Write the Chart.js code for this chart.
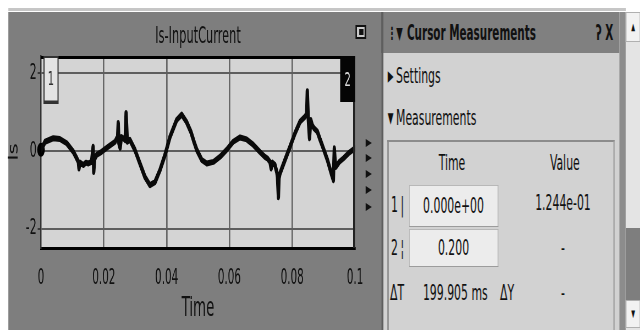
<!DOCTYPE html>
<html>
<head>
<meta charset="utf-8">
<script src="https://cdn.jsdelivr.net/npm/chart.js@4.4.1/dist/chart.umd.min.js"></script>
<style>
  html, body { margin: 0; padding: 0; background: #fff; overflow: hidden; width: 642px; height: 330px; }
  /* the screenshot is squeezed sideways, so everything is laid out wide and scaled */
  #page { position: absolute; left: 0; top: 0; width: 1168px; height: 330px;
          transform: scaleX(0.55); transform-origin: 0 0;
          font-family: 'Liberation Sans Narrow', 'DejaVu Sans Condensed', 'Liberation Sans', sans-serif;
          color: #111; }
  .abs { position: absolute; box-sizing: border-box; }
  .t { position: absolute; white-space: nowrap; font-size: 22px; line-height: 26px; }
  .c { text-align: center; }
  .tri { position: absolute; width: 0; height: 0; border-left: 11px solid #111;
         border-top: 4px solid transparent; border-bottom: 4px solid transparent; }
  .inp { position: absolute; box-sizing: border-box; background: #ececec; border: 1.5px solid #9c9c9c;
         border-top-color: #b8b8b8; font-size: 22px; text-align: center; }
</style>
</head>
<body>
<div id="page">
  <div class="abs" style="left:14.5px;top:8px;width:1123.5px;height:3px;background:#c6c6c6"></div>
  <div class="abs" style="left:14.5px;top:12px;width:678.5px;height:318px;background:#7e7e7e"></div>
  <canvas id="scope" class="abs" width="693" height="330" style="left:0;top:0"></canvas>

  <div class="abs" style="left:646px;top:25px;width:20px;height:14px;border:3px solid #111;border-top-width:2px;border-bottom-width:2px;background:#c9c9c9">
    <div class="abs" style="left:4px;top:2px;width:8px;height:6px;background:#111"></div>
  </div>
  <div class="tri" style="left:665px;top:139px"></div>
  <div class="tri" style="left:665px;top:154px"></div>
  <div class="tri" style="left:665px;top:170px"></div>
  <div class="tri" style="left:665px;top:186px"></div>
  <div class="tri" style="left:665px;top:203px"></div>

  <!-- cursor measurements panel -->
  <div class="abs" style="left:693px;top:12px;width:432.5px;height:318px;background:#d2d2d2;border-left:4px solid #5e5e5e"></div>
  <div class="abs" style="left:693px;top:12px;width:432.5px;height:41px;background:#808080;border-left:4px solid #5e5e5e"></div>
  <span class="t" style="left:705px;top:20px;font-size:17px;font-weight:bold">⋮▼</span>
  <span class="t" style="left:740px;top:20px;font-size:21px;font-weight:bold">Cursor Measurements</span>
  <span class="t" style="left:1083px;top:20px;font-size:21px;font-weight:bold">ʔ X</span>

  <span class="t" style="left:705px;top:63px;font-size:15px">▶</span>
  <span class="t" style="left:720px;top:63px">Settings</span>
  <span class="t" style="left:705px;top:105px;font-size:15px">▼</span>
  <span class="t" style="left:720px;top:105px">Measurements</span>

  <div class="abs" style="left:703.6px;top:140px;width:414.4px;height:200px;border:3px solid #8c8c8c;border-top-width:2px;border-right-color:#a8a8a8"></div>
  <span class="t c" style="left:761.8px;top:150px;width:120px">Time</span>
  <span class="t c" style="left:967px;top:150px;width:120px">Value</span>

  <span class="t" style="left:711px;top:192px">1</span>
  <span class="t" style="left:728px;top:192px">|</span>
  <div class="inp" style="left:743.6px;top:185px;width:162px;height:42px;line-height:39px">0.000e+00</div>
  <span class="t c" style="left:953.6px;top:190px;width:140px">1.244e-01</span>

  <span class="t" style="left:711px;top:235px">2</span>
  <span class="t" style="left:728px;top:235px">¦</span>
  <div class="inp" style="left:743.6px;top:229px;width:162px;height:38px;line-height:35px">0.200</div>
  <span class="t c" style="left:953.6px;top:235px;width:140px">-</span>

  <span class="t" style="left:709px;top:280px">ΔT</span>
  <span class="t" style="left:769px;top:280px">199.905 ms</span>
  <span class="t" style="left:909px;top:280px">ΔY</span>
  <span class="t c" style="left:953.6px;top:280px;width:140px">-</span>

  <!-- scrollbar -->
  <div class="abs" style="left:1125.5px;top:12px;width:12.5px;height:318px;background:#8c8c8c"></div>
  <div class="abs" style="left:1138px;top:12px;width:26px;height:318px;background:#e4e4e4"></div>
  <div class="abs c" style="left:1138px;top:12px;width:26px;height:30px;background:#f2f2f2;border:1.5px solid #b0b0b0;font-size:10px;line-height:28px">▲</div>
  <div class="abs" style="left:1138px;top:228px;width:26px;height:72px;background:#7e7e7e"></div>
  <div class="abs c" style="left:1138px;top:300px;width:26px;height:28px;background:#f2f2f2;border:1.5px solid #b0b0b0;font-size:10px;line-height:26px">▼</div>
</div>

<script>
// Is-InputCurrent trace (time in s, current in A)
const timeValues = [
  0, 0.0013, 0.0039, 0.006, 0.0082, 0.0103, 0.0112, 0.0119, 0.0121, 0.0124,
  0.0135, 0.0143, 0.0151, 0.0161, 0.0166, 0.0168, 0.0171, 0.0177, 0.0193, 0.0214,
  0.0236, 0.0244, 0.0246, 0.0248, 0.0252, 0.0256, 0.0262, 0.0268, 0.0271, 0.0275,
  0.0283, 0.0299, 0.0315, 0.0331, 0.0347, 0.0363, 0.0379, 0.0395, 0.0411, 0.0432,
  0.0448, 0.0464, 0.0478, 0.0488, 0.0496, 0.0512, 0.0528, 0.0549, 0.057, 0.0591,
  0.0612, 0.0634, 0.0655, 0.0676, 0.0697, 0.0713, 0.0722, 0.0729, 0.0733, 0.0737,
  0.0745, 0.0751, 0.0753, 0.0756, 0.0758, 0.0761, 0.0777, 0.0793, 0.0809, 0.0825,
  0.0841, 0.0846, 0.0848, 0.0851, 0.0855, 0.0859, 0.0864, 0.0869, 0.088, 0.0889,
  0.0899, 0.0912, 0.0926, 0.0931, 0.0934, 0.0937, 0.0939, 0.095, 0.0963, 0.0979,
  0.1
];
const currentValues = [
  0.03, 0.24, 0.33, 0.31, 0.2, -0.02, -0.16, -0.28, -0.45, -0.3,
  -0.36, -0.3, -0.32, -0.28, 0.11, -0.54, -0.2, -0.1, -0.02, 0.11,
  0.24, 0.37, 0.72, 0.2, 0.08, 0.36, 0.33, 0.28, 0.98, 0.24,
  0.29, 0.03, -0.32, -0.67, -0.88, -0.8, -0.49, -0.1, 0.37, 0.8,
  0.94, 0.74, 0.48, 0.22, 0.03, -0.23, -0.32, -0.28, -0.15, 0.03,
  0.24, 0.35, 0.3, 0.16, -0.02, -0.15, -0.2, -0.28, -0.45, -0.3,
  -0.36, -0.55, -0.67, -1.19, -0.7, -0.58, -0.23, 0.11, 0.46, 0.76,
  0.89, 0.95, 1.54, 0.85, 0.33, 0.8, 0.66, 0.59, 0.5, 0.29,
  0.07, -0.23, -0.62, -0.75, 0.07, -0.3, -0.41, -0.28, -0.19, -0.06,
  0.07
];
const xTicks = [0, 0.02, 0.04, 0.06, 0.08, 0.1];
const yTicks = [-2, 0, 2];
const cursorTimes = [0, 0.2];

const FONT = "'Liberation Sans Narrow', 'DejaVu Sans Condensed', 'Liberation Sans', sans-serif";
Chart.defaults.font.family = FONT;
Chart.defaults.color = '#111';

// plot background, outer frame and the two cursor tags
const scopeFrame = {
  id: 'scopeFrame',
  beforeDraw(chart) {
    const { ctx, chartArea: a } = chart;
    ctx.save();
    ctx.fillStyle = '#d4d4d4';
    ctx.fillRect(a.left, a.top, a.right - a.left, a.bottom - a.top);
    ctx.restore();
  },
  afterDatasetsDraw(chart) {
    const { ctx, chartArea: a, scales: { x } } = chart;
    ctx.save();
    ctx.strokeStyle = '#000';
    ctx.lineWidth = 3;
    ctx.beginPath();
    ctx.moveTo(a.left, a.top + 1.5);
    ctx.lineTo(a.right, a.top + 1.5);
    ctx.stroke();
    ctx.strokeStyle = '#222';
    ctx.lineWidth = 3.5;
    ctx.beginPath();
    ctx.moveTo(a.right - 1.75, a.top);
    ctx.lineTo(a.right - 1.75, a.bottom);
    ctx.stroke();

    ctx.font = '20px ' + FONT;
    ctx.textAlign = 'center';
    ctx.textBaseline = 'middle';
    cursorTimes.forEach((t, i) => {
      const px = x.getPixelForValue(Math.min(t, x.max));
      if (i === 0) {
        ctx.fillStyle = '#e4e4e4';
        ctx.fillRect(px + 5.5, a.top + 1, 25.5, 46);
        ctx.strokeStyle = '#333';
        ctx.lineWidth = 2;
        ctx.strokeRect(px + 5.5, a.top + 1, 25.5, 46);
        ctx.lineWidth = 3;
        ctx.beginPath();
        ctx.moveTo(px + 5.5, a.top + 46);
        ctx.lineTo(px + 31, a.top + 46);
        ctx.stroke();
        ctx.fillStyle = '#333';
        ctx.fillText(String(i + 1), px + 18, a.top + 24);
      } else {
        ctx.fillStyle = '#050505';
        ctx.fillRect(px - 27, a.top, 27, 46);
        ctx.fillStyle = '#dcdcdc';
        ctx.fillText(String(i + 1), px - 13.5, a.top + 25);
      }
    });
    ctx.restore();
  }
};

const ctx = document.getElementById('scope').getContext('2d');
new Chart(ctx, {
  type: 'line',
  data: {
    datasets: [
      {
        data: timeValues.map((t, i) => ({ x: t, y: currentValues[i] })),
        borderColor: '#0a0a0a',
        borderWidth: 6,
        borderJoinStyle: 'round',
        borderCapStyle: 'round',
        pointRadius: 0,
        tension: 0
      },
      {
        data: [{ x: cursorTimes[0], y: currentValues[0] }],
        showLine: false,
        pointRadius: 7,
        pointBorderWidth: 0,
        pointBackgroundColor: '#000',
        clip: false
      }
    ]
  },
  options: {
    responsive: false,
    animation: false,
    events: [],
    layout: { padding: { left: 0, right: 47.5, top: 0, bottom: 0 } },
    plugins: {
      legend: { display: false },
      tooltip: { enabled: false },
      title: {
        display: true,
        text: 'Is-InputCurrent',
        fullSize: false,
        color: '#111',
        font: { size: 23, weight: 'normal', lineHeight: 1.2 },
        padding: { top: 23.2, bottom: 5.2 }
      }
    },
    scales: {
      x: {
        type: 'linear',
        min: 0,
        max: 0.1,
        afterBuildTicks: s => { s.ticks = xTicks.map(v => ({ value: v })); },
        afterFit: s => { s.height = 82; },
        ticks: { padding: 18, font: { size: 21 }, color: '#111', maxRotation: 0, autoSkip: false,
                 callback: v => String(v) },
        grid: {
          color: c => (c.tick && (c.tick.value === 0 || c.tick.value === 0.1)) ? 'rgba(0,0,0,0)' : '#676767',
          lineWidth: 2.7,
          drawTicks: false
        },
        border: { color: '#000', width: 3 },
        title: { display: true, text: 'Time', color: '#111', font: { size: 27 }, padding: { top: 0, bottom: 5 } }
      },
      y: {
        min: -2.5,
        max: 2.45,
        afterBuildTicks: s => { s.ticks = yTicks.map(v => ({ value: v })); },
        afterFit: s => { s.width = 74.5; },
        ticks: { padding: 2, font: { size: 22 }, color: '#111', callback: v => String(v) },
        grid: { color: '#5e5e5e', lineWidth: 2, drawTicks: true, tickLength: 6, tickColor: '#222', tickWidth: 1.5 },
        border: { color: '#333', width: 2.5 },
        title: { display: true, text: 'Is', color: '#111', font: { size: 24 }, padding: { top: 11, bottom: 0 } }
      }
    }
  },
  plugins: [scopeFrame]
});
</script>
</body>
</html>
